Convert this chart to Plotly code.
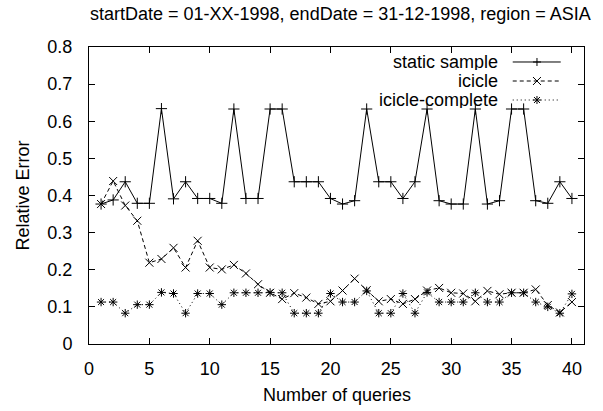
import plotly.graph_objects as go

queries = list(range(1, 41))

static_sample = [0.377, 0.388, 0.437, 0.379, 0.379, 0.634, 0.391, 0.437, 0.392, 0.392,
                 0.379, 0.633, 0.392, 0.392, 0.633, 0.633, 0.437, 0.437, 0.437, 0.392,
                 0.377, 0.386, 0.633, 0.437, 0.437, 0.392, 0.437, 0.633, 0.386, 0.377,
                 0.377, 0.633, 0.377, 0.386, 0.633, 0.633, 0.386, 0.379, 0.437, 0.392]

icicle = [0.377, 0.439, 0.373, 0.332, 0.219, 0.229, 0.259, 0.206, 0.278, 0.206,
          0.201, 0.213, 0.190, 0.161, 0.138, 0.121, 0.137, 0.125, 0.108, 0.115,
          0.144, 0.176, 0.145, 0.115, 0.121, 0.108, 0.121, 0.144, 0.151, 0.138,
          0.136, 0.115, 0.143, 0.134, 0.138, 0.138, 0.147, 0.105, 0.085, 0.113]

icicle_complete = [0.113, 0.113, 0.083, 0.106, 0.106, 0.139, 0.136, 0.083, 0.136, 0.136,
                   0.106, 0.138, 0.138, 0.138, 0.139, 0.138, 0.083, 0.083, 0.083, 0.136,
                   0.113, 0.113, 0.143, 0.083, 0.083, 0.136, 0.083, 0.139, 0.113, 0.113,
                   0.113, 0.138, 0.113, 0.113, 0.138, 0.138, 0.113, 0.100, 0.083, 0.135]

series_names = ["static sample", "icicle", "icicle-complete"]
x_ticks = [0, 5, 10, 15, 20, 25, 30, 35, 40]
y_ticks = [0, 0.1, 0.2, 0.3, 0.4, 0.5, 0.6, 0.7, 0.8]
title_text = "startDate = 01-XX-1998, endDate = 31-12-1998, region = ASIA"

FONT = "Liberation Sans, Arial, sans-serif"
FS = 18

styles = [
    dict(dash="solid", symbol="cross-thin-open", size=8),
    dict(dash="4px,3px", symbol="x-thin-open", size=8),
    dict(dash="1px,3px", symbol="asterisk-open", size=7),
]

fig = go.Figure()
for name, ys, st in zip(series_names, [static_sample, icicle, icicle_complete], styles):
    fig.add_trace(go.Scatter(
        x=queries, y=ys, name=name, mode="lines+markers",
        line=dict(color="black", width=1, dash=st["dash"]),
        marker=dict(symbol=st["symbol"], size=st["size"], color="black",
                    line=dict(color="black", width=1)),
        showlegend=False,
    ))

# custom legend: text right-aligned, then line sample with marker
leg_y = [0.9495, 0.8855, 0.8215]
text_x = 0.830
line_x0, line_x1 = 0.856, 0.953
mark_x = 0.905
shapes = []
annotations = []
for name, st, yy in zip(series_names, styles, leg_y):
    annotations.append(dict(x=text_x, y=yy, xref="paper", yref="paper", text=name,
                            showarrow=False, xanchor="right", yanchor="middle", height=16,
                            font=dict(family=FONT, size=FS, color="black")))
    shapes.append(dict(type="line", xref="paper", yref="paper", x0=line_x0, x1=line_x1,
                       y0=yy, y1=yy, line=dict(color="black", width=1, dash=st["dash"])))


def marker_path(kind):
    h = 4
    if kind == "cross-thin-open":
        return f"M{-h},0 L{h},0 M0,{-h} L0,{h}"
    if kind == "x-thin-open":
        return f"M{-h},{-h} L{h},{h} M{-h},{h} L{h},{-h}"
    return (f"M{-h},0 L{h},0 M0,{-h} L0,{h} M{-h+1},{-h+1} L{h-1},{h-1} "
            f"M{-h+1},{h-1} L{h-1},{-h+1}")


for st, yy in zip(styles, leg_y):
    shapes.append(dict(type="path", xref="paper", yref="paper",
                       xsizemode="pixel", ysizemode="pixel",
                       xanchor=mark_x, yanchor=yy,
                       path=marker_path(st["symbol"]),
                       line=dict(color="black", width=1)))

annotations.append(dict(x=0.508, y=1, xref="paper", yref="paper", text=title_text,
                        showarrow=False, xanchor="center", yanchor="bottom", yshift=21,
                        font=dict(family=FONT, size=FS, color="black")))
annotations.append(dict(x=0.5, y=0, xref="paper", yref="paper", text="Number of queries",
                        showarrow=False, xanchor="center", yanchor="middle", yshift=-51,
                        font=dict(family=FONT, size=FS, color="black")))
annotations.append(dict(x=0, y=0.5, xref="paper", yref="paper", text="Relative Error",
                        showarrow=False, xanchor="center", yanchor="middle", xshift=-67,
                        textangle=-90,
                        font=dict(family=FONT, size=FS, color="black")))

fig.update_layout(
    width=603, height=411,
    margin=dict(l=89, r=19, t=47, b=67),
    paper_bgcolor="white", plot_bgcolor="white",
    font=dict(family=FONT, size=FS, color="black"),
    showlegend=False,
    shapes=shapes,
    annotations=annotations,
)
fig.update_xaxes(range=[0, 41], tickvals=x_ticks, ticks="inside", ticklen=6,
                 tickcolor="black", showline=True, linecolor="black", linewidth=1,
                 mirror="ticks", showgrid=False, zeroline=False, ticklabelstandoff=8,
                 tickfont=dict(family=FONT, size=FS, color="black"))
fig.update_yaxes(range=[0, 0.8], tickvals=y_ticks, ticks="inside", ticklen=6,
                 tickcolor="black", showline=True, linecolor="black", linewidth=1,
                 mirror="ticks", showgrid=False, zeroline=False, ticklabelstandoff=12,
                 tickfont=dict(family=FONT, size=FS, color="black"))

fig.write_html("out.html")
